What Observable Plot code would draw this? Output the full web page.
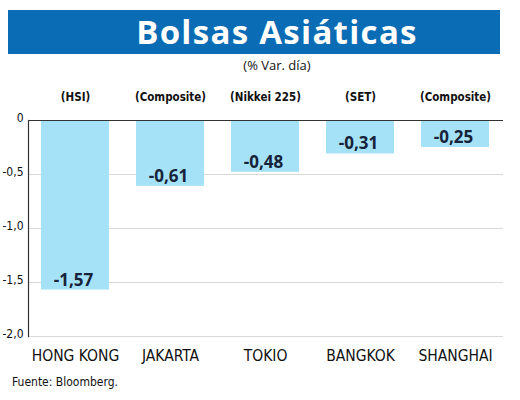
<!DOCTYPE html>
<html>
<head>
<meta charset="utf-8">
<script src="https://cdn.jsdelivr.net/npm/d3@7"></script>
<script src="https://cdn.jsdelivr.net/npm/@observablehq/plot@0.6"></script>
<style>
  html, body { margin: 0; padding: 0; background: #fff; width: 520px; height: 400px; overflow: hidden; }
  #title { position: absolute; left: 8px; top: 10px; width: 492px; height: 44px; background: #0a6cb4;
    color: #fff; font-family: "Open Sans", Lato, sans-serif; font-weight: 700; font-size: 33px;
    line-height: 44px; text-align: center; box-sizing: border-box; padding-left: 46px; letter-spacing: 1.3px; }
  #subtitle { position: absolute; left: 0; top: 56px; width: 554px; text-align: center;
    font-family: "Open Sans", sans-serif; font-size: 13px; color: #111; }
  #chart { position: absolute; left: 0; top: 78px; }
  #caption { position: absolute; left: 12px; top: 375px; font-family: "DejaVu Sans Condensed", "DejaVu Sans", sans-serif;
    font-stretch: condensed; font-size: 12px; color: #111; }
</style>
</head>
<body>
<div id="title">Bolsas Asiáticas</div>
<div id="subtitle">(% Var. día)</div>
<div id="chart"></div>
<div id="caption">Fuente: Bloomberg.</div>
<script>
const markets = ["HONG KONG", "JAKARTA", "TOKIO", "BANGKOK", "SHANGHAI"];
const indices = ["(HSI)", "(Composite)", "(Nikkei 225)", "(SET)", "(Composite)"];
const values = [-1.57, -0.61, -0.48, -0.31, -0.25];
const yTicks = [0, -0.5, -1.0, -1.5, -2.0];

const data = markets.map((m, i) => ({market: m, index: indices[i], value: values[i]}));
const comma = v => d3.format(".2f")(v).replace(".", ",").replace("−", "-");
const comma1 = v => v === 0 ? "0" : d3.format(".1f")(v).replace(".", ",").replace("−", "-");
const narrow = "'Liberation Sans Narrow', 'DejaVu Sans Condensed', sans-serif";

const chart = Plot.plot({
  width: 520,
  height: 298,
  marginLeft: 28,
  marginRight: 17,
  marginTop: 42,
  marginBottom: 40,
  style: {background: "#fff", color: "#111", fontFamily: narrow},
  x: {domain: markets, paddingInner: 0.28, paddingOuter: 0.14, label: null},
  y: {domain: [-2, 0], label: null},
  marks: [
    Plot.ruleY(yTicks.filter(d => d !== 0), {stroke: "#d9d9d9", strokeWidth: 1.2}),
    Plot.barY(data, {x: "market", y1: 0, y2: "value", fill: "#a6e2f7", insetTop: 1}),
    Plot.ruleY([0], {stroke: "#333", strokeWidth: 1.2}),
    Plot.frame({anchor: "left", stroke: "#333", strokeWidth: 1.2}),
    Plot.axisY({ticks: yTicks, tickSize: 0, tickPadding: 5, tickFormat: comma1, fontSize: 12, dy: -2, fontFamily: narrow}),
    Plot.axisX({tickSize: 0, tickPadding: 13, fontSize: 15.5, fontFamily: narrow, label: null}),
    Plot.text(data, {x: "market", y: 0, text: "index", dy: -23, fontSize: 11.5, fontWeight: 700, fontFamily: narrow, fill: "#111"}),
    Plot.text(data, {x: "market", y: "value", text: d => comma(d.value), dy: -10, dx: -2, fontSize: 17, fontWeight: 700, fontFamily: "'Open Sans', sans-serif", fill: "#16233a"})
  ]
});
document.getElementById("chart").appendChild(chart);
</script>
</body>
</html>
